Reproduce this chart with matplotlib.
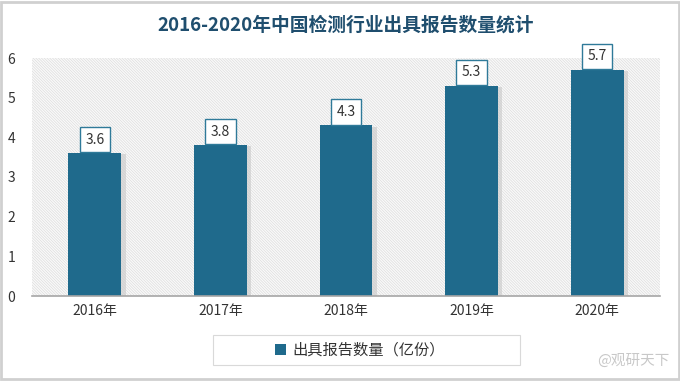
import matplotlib
matplotlib.use('Agg')
import matplotlib.pyplot as plt
from matplotlib.patches import Rectangle

plt.rcParams['font.family'] = ['Noto Sans CJK SC', 'DejaVu Sans']
plt.rcParams['hatch.linewidth'] = 0.5

years = ['2016年', '2017年', '2018年', '2019年', '2020年']
reports = [3.6, 3.8, 4.3, 5.3, 5.7]
bar_color = '#1f6a8c'
title_color = '#1f4e6e'

fig = plt.figure(figsize=(6.8, 3.81), dpi=100)
ax = fig.add_axes([32/680, 85/381, 628/680, 238/381])

# hatched background
ax.add_patch(Rectangle((0, 0), 1, 1, transform=ax.transAxes, facecolor='#fafafa',
                       edgecolor='#dcdcdc', linewidth=0, hatch='\\' * 12, zorder=0))

x = list(range(len(years)))
# soft shadow behind bars
ax.bar([i + 0.03 for i in x], [v - 0.03 for v in reports], width=0.43,
       color='#c8c8c8', alpha=0.6, zorder=1)
bars = ax.bar(x, reports, width=0.42, color=bar_color, zorder=2,
              label='出具报告数量（亿份）')

for i, v in zip(x, reports):
    ax.text(i, v + 0.34, f'{v}', ha='center', va='center', fontsize=10,
            color='#333333', zorder=3,
            bbox=dict(boxstyle='square,pad=0.4', facecolor='white',
                      edgecolor='#2f7a99', linewidth=1))

ax.set_xlim(-0.5, 4.5)
ax.set_ylim(0, 6)
ax.set_xticks(x)
ax.set_xticklabels(years, fontsize=10, color='#333333')
ax.set_yticks(range(7))
ax.tick_params(axis='y', labelsize=10, colors='#333333', length=0, pad=12)
ax.tick_params(axis='x', length=0, pad=6)
for s in ['top', 'right', 'left']:
    ax.spines[s].set_visible(False)
ax.spines['bottom'].set_color('#a6a6a6')
ax.spines['bottom'].set_linewidth(1.2)

fig.text(346/680, 1 - 25/381, '2016-2020年中国检测行业出具报告数量统计', ha='center',
         va='center', fontsize=13.5, fontweight='bold', color=title_color)

# legend with a wide frame
fig.patches.append(Rectangle((213/680, 1 - 365/381), 307/680, 30/381,
                             transform=fig.transFigure, facecolor='white',
                             edgecolor='#d9d9d9', linewidth=0.8))
leg = fig.legend(handles=[bars], loc='center', bbox_to_anchor=(360/680, 1 - 350/381),
                 fontsize=11, frameon=False, handlelength=0.7,
                 handleheight=0.7, handletextpad=0.4)
for t in leg.get_texts():
    t.set_color('#333333')

fig.text(0.985, 0.035, '@观研天下', ha='right', va='bottom', fontsize=10.5,
         color='#c8c8c8')

fig.patches.append(Rectangle((0.002, 0.004), 0.996, 0.992, transform=fig.transFigure,
                             facecolor='none', edgecolor='#d0d0d0', linewidth=2))

fig.savefig('out.png', dpi=100)
